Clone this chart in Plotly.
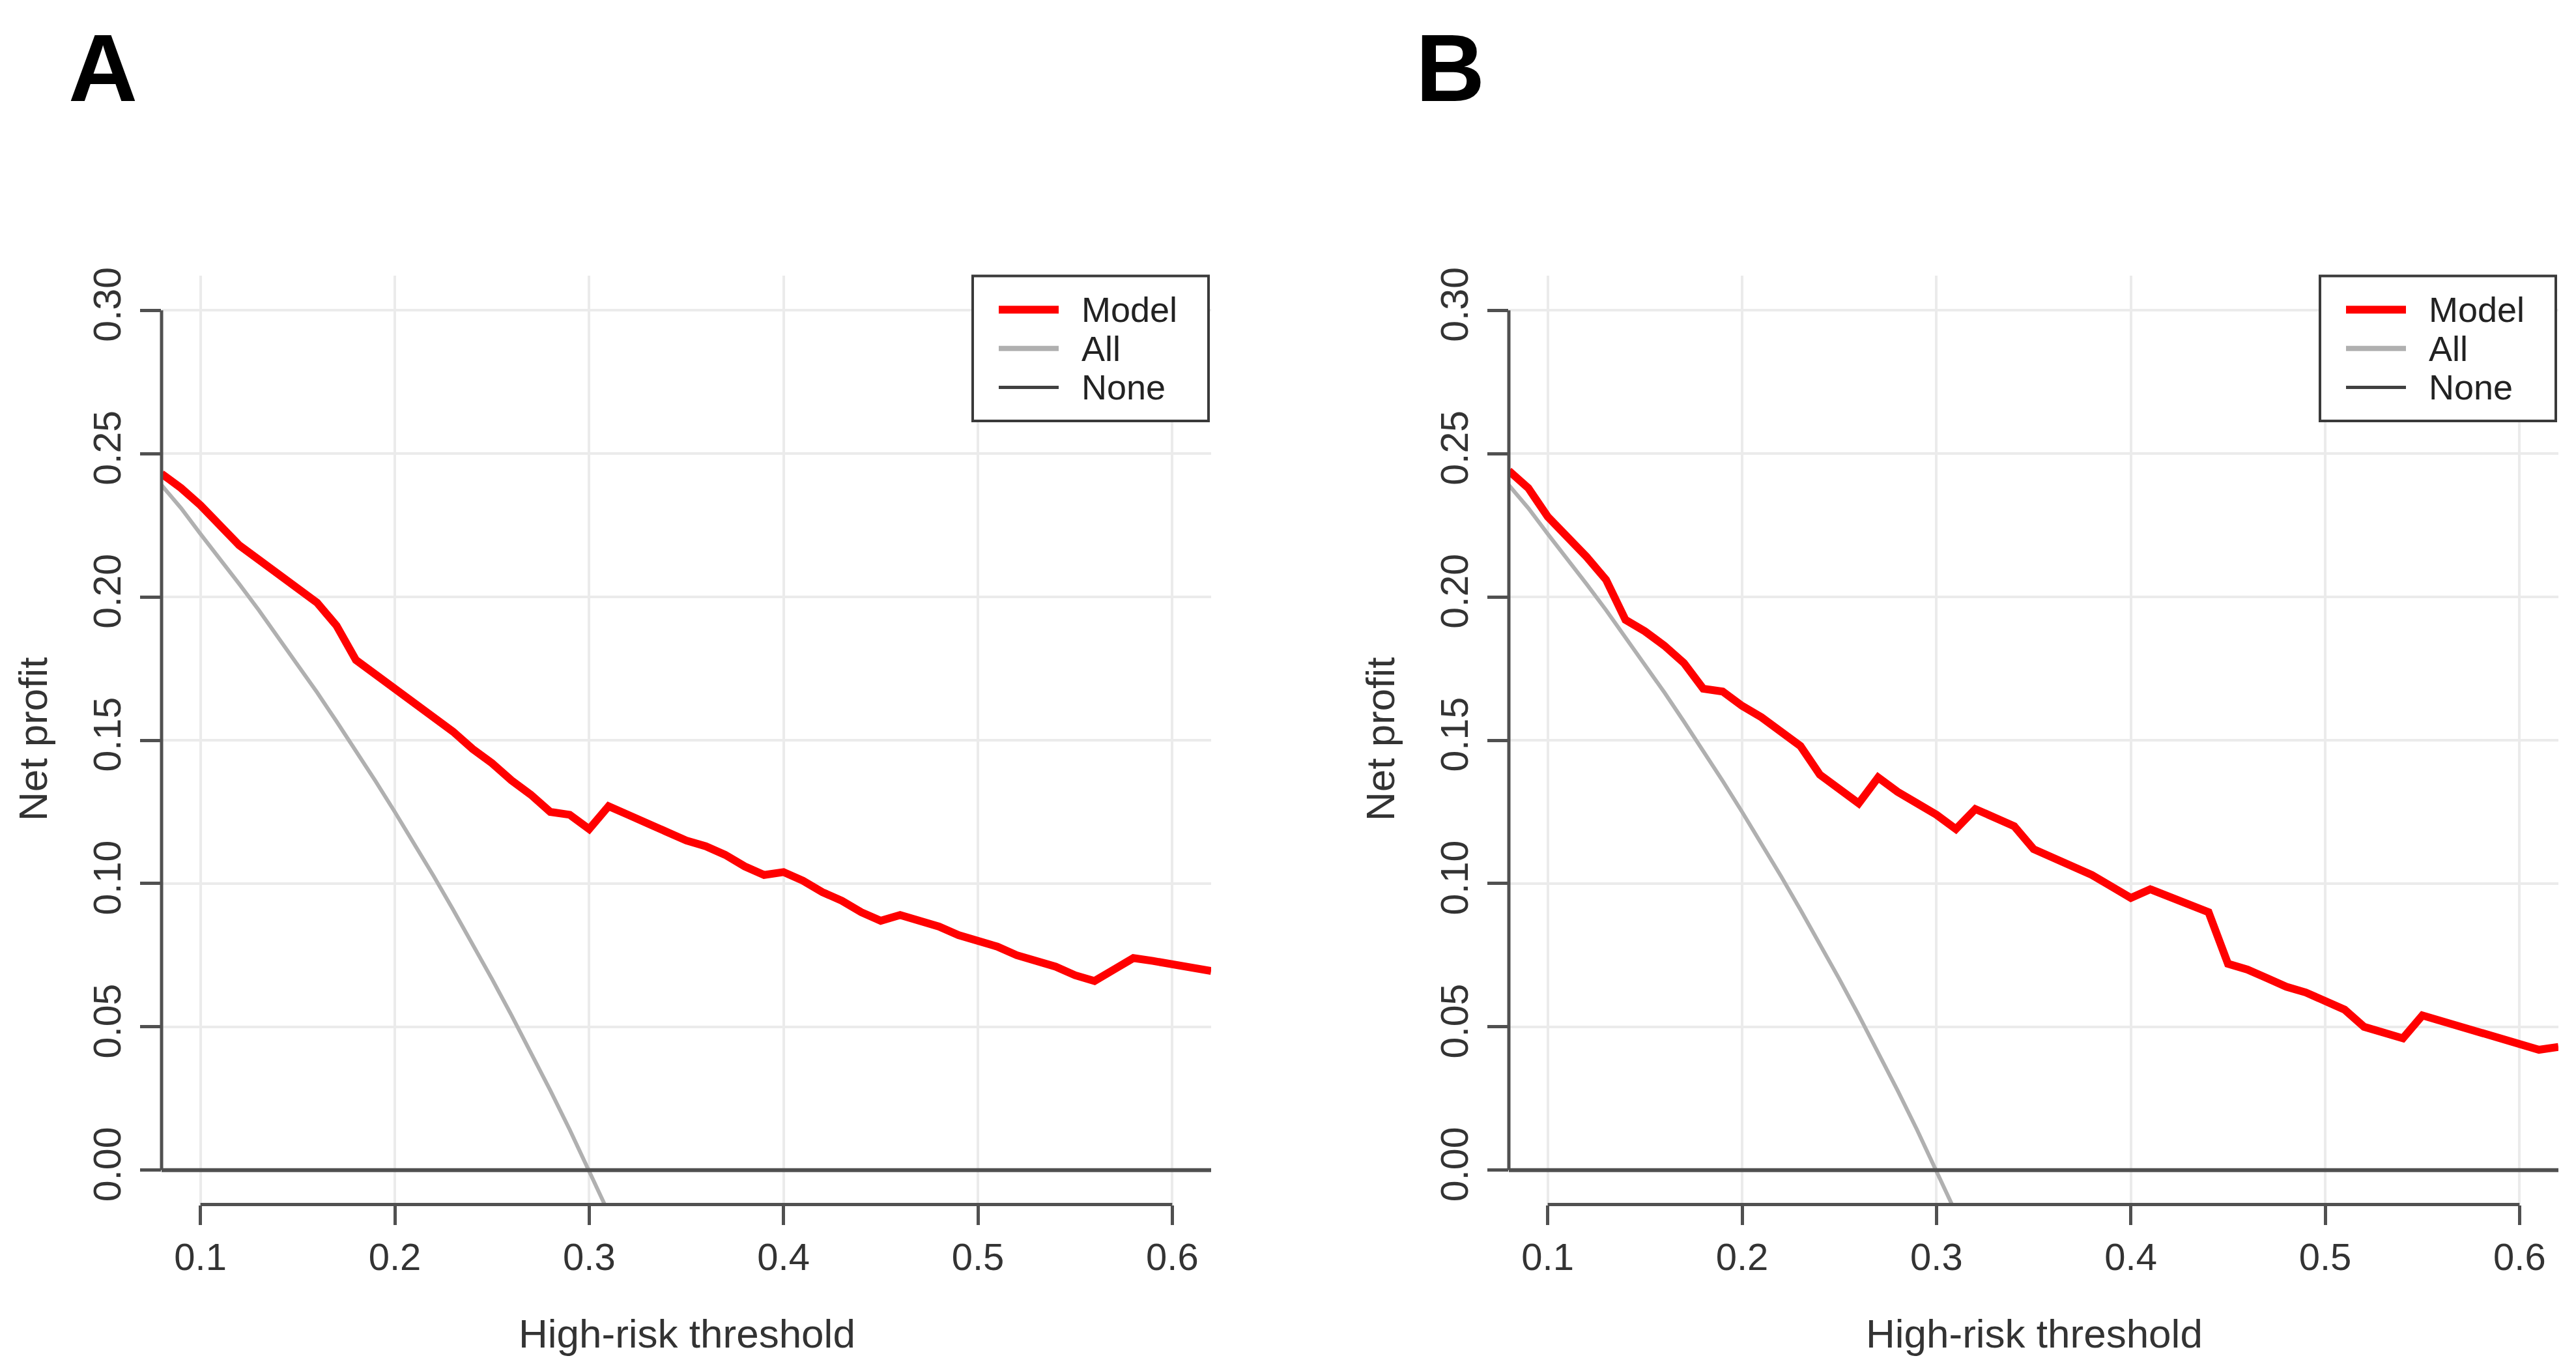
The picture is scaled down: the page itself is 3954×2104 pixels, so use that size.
import plotly.graph_objects as go

# ---------------- data ----------------
threshold = [0.08, 0.09, 0.10, 0.11, 0.12, 0.13, 0.14, 0.15, 0.16, 0.17,
             0.18, 0.19, 0.20, 0.21, 0.22, 0.23, 0.24, 0.25, 0.26, 0.27,
             0.28, 0.29, 0.30, 0.31, 0.32, 0.33, 0.34, 0.35, 0.36, 0.37,
             0.38, 0.39, 0.40, 0.41, 0.42, 0.43, 0.44, 0.45, 0.46, 0.47,
             0.48, 0.49, 0.50, 0.51, 0.52, 0.53, 0.54, 0.55, 0.56, 0.57,
             0.58, 0.59, 0.60, 0.61, 0.62]

model_a = [0.243, 0.238, 0.232, 0.225, 0.218, 0.213, 0.208, 0.203, 0.198, 0.190,
           0.178, 0.173, 0.168, 0.163, 0.158, 0.153, 0.147, 0.142, 0.136, 0.131,
           0.125, 0.124, 0.119, 0.127, 0.124, 0.121, 0.118, 0.115, 0.113, 0.110,
           0.106, 0.103, 0.104, 0.101, 0.097, 0.094, 0.090, 0.087, 0.089, 0.087,
           0.085, 0.082, 0.080, 0.078, 0.075, 0.073, 0.071, 0.068, 0.066, 0.070,
           0.074, 0.073, 0.072, 0.071, 0.0695]

model_b = [0.244, 0.238, 0.228, 0.221, 0.214, 0.206, 0.192, 0.188, 0.183, 0.177,
           0.168, 0.167, 0.162, 0.158, 0.153, 0.148, 0.138, 0.133, 0.128, 0.137,
           0.132, 0.128, 0.124, 0.119, 0.126, 0.123, 0.120, 0.112, 0.109, 0.106,
           0.103, 0.099, 0.095, 0.098, 0.0955, 0.093, 0.090, 0.072, 0.070, 0.067,
           0.064, 0.062, 0.059, 0.056, 0.050, 0.048, 0.046, 0.054, 0.052, 0.050,
           0.048, 0.046, 0.044, 0.042, 0.043]

# "treat all" curve (threshold 0.08 .. 0.32)
treat_all = [0.239, 0.231, 0.222, 0.2135, 0.2045, 0.1954, 0.186, 0.1765, 0.1667, 0.1566,
             0.1463, 0.1358, 0.125, 0.1139, 0.1026, 0.0909, 0.0789, 0.0667, 0.0541, 0.0411,
             0.0278, 0.0141, 0.0, -0.0145, -0.0294]

treat_none = [0.0] * len(threshold)

x_ticks = [0.1, 0.2, 0.3, 0.4, 0.5, 0.6]
x_tick_text = ["0.1", "0.2", "0.3", "0.4", "0.5", "0.6"]
y_ticks = [0.0, 0.05, 0.10, 0.15, 0.20, 0.25, 0.30]
y_tick_text = ["0.00", "0.05", "0.10", "0.15", "0.20", "0.25", "0.30"]

panel_letters = ["A", "B"]
legend_labels = ["Model", "All", "None"]

# ---------------- styling ----------------
W, H = 3954, 2104          # page (window) size
M = 8                      # default <body> margin of the html page
FW, FH = W - 2 * M, H - 2 * M
FONT = "Liberation Sans, Arial, sans-serif"
RED = "#FF0000"
GREY = "#B0B0B0"
DARK = "#505050"
GRID = "#EBEBEB"
TXT = "#333333"


def px(x):
    return (x - M) / FW


def py(y):
    return 1 - (y - M) / FH


fig = go.Figure()

panel_offsets = [0, 2068]
models = [model_a, model_b]
shapes = []
annotations = []

for i, (off, model, letter) in enumerate(zip(panel_offsets, models, panel_letters)):
    xa = "x" if i == 0 else "x2"
    ya = "y" if i == 0 else "y2"
    fig.add_trace(go.Scatter(x=threshold[:len(treat_all)], y=treat_all, mode="lines",
                             line=dict(color=GREY, width=6), name=legend_labels[1],
                             showlegend=False, xaxis=xa, yaxis=ya))
    fig.add_trace(go.Scatter(x=threshold, y=treat_none, mode="lines",
                             line=dict(color=DARK, width=6), name=legend_labels[2],
                             showlegend=False, xaxis=xa, yaxis=ya))
    fig.add_trace(go.Scatter(x=threshold, y=model, mode="lines",
                             line=dict(color=RED, width=12), name=legend_labels[0],
                             showlegend=False, xaxis=xa, yaxis=ya))

    xref_dom = xa + " domain"
    yref_dom = ya + " domain"
    # axis lines (R style: span first to last tick)
    shapes.append(dict(type="line", xref=xref_dom, yref=ya, x0=0, x1=0,
                       y0=y_ticks[0], y1=y_ticks[-1], line=dict(color=DARK, width=5)))
    shapes.append(dict(type="line", xref=xa, yref=yref_dom, x0=x_ticks[0], x1=x_ticks[-1],
                       y0=0, y1=0, line=dict(color=DARK, width=5)))

    # legend box
    bx0, bx1, by0, by1 = 1493 + off, 1855 + off, 413, 637
    shapes.append(dict(type="rect", xref="paper", yref="paper",
                       x0=px(bx0), x1=px(bx1), y0=py(by1), y1=py(by0),
                       line=dict(color="#3a3a3a", width=4), fillcolor="white", layer="above"))
    rows = [(465, RED, 12), (525, GREY, 8), (585, "#404040", 5)]
    for (ry, col, lw), lab in zip(rows, legend_labels):
        shapes.append(dict(type="line", xref="paper", yref="paper",
                           x0=px(1533 + off), x1=px(1625 + off), y0=py(ry), y1=py(ry),
                           line=dict(color=col, width=lw), layer="above"))
        annotations.append(dict(text=lab, xref="paper", yref="paper",
                                x=px(1658 + off), y=py(ry), xanchor="left", yanchor="middle",
                                showarrow=False, font=dict(family=FONT, size=54, color="#222222")))

    # axis titles
    annotations.append(dict(text="High-risk threshold", xref="paper", yref="paper",
                            x=px(1054 + off), y=py(2046), xanchor="center", yanchor="middle",
                            showarrow=False, font=dict(family=FONT, size=62, color=TXT)))
    annotations.append(dict(text="Net profit", xref="paper", yref="paper",
                            x=px(50 + off), y=py(1128), xanchor="center", yanchor="middle",
                            textangle=-90, showarrow=False,
                            font=dict(family=FONT, size=62, color=TXT)))
    # panel letter
    annotations.append(dict(text="<b>" + letter + "</b>", xref="paper", yref="paper",
                            x=px(104 + off), y=1, xanchor="left", yanchor="top",
                            showarrow=False, borderpad=0,
                            font=dict(family=FONT, size=147, color="black")))

x_dom_a = [px(248), px(1859)]
x_dom_b = [px(248 + 2068), px(1859 + 2068)]
y_dom = [py(1847), py(413)]

common_x = dict(range=[0.08, 0.62], tickmode="array", tickvals=x_ticks, ticktext=x_tick_text,
                ticks="outside", ticklen=30, tickwidth=5, tickcolor=DARK,
                showgrid=True, gridcolor=GRID, gridwidth=4, zeroline=False, showline=False,
                tickfont=dict(family=FONT, size=58, color=TXT), fixedrange=True)
common_y = dict(range=[-0.012, 0.312], tickmode="array", tickvals=y_ticks, ticktext=y_tick_text,
                ticks="outside", ticklen=32, tickwidth=5, tickcolor=DARK, tickangle=-90,
                ticklabelstandoff=6,
                showgrid=True, gridcolor=GRID, gridwidth=4, zeroline=False, showline=False,
                tickfont=dict(family=FONT, size=59, color=TXT), fixedrange=True)

fig.update_layout(
    width=FW, height=FH,
    margin=dict(l=0, r=0, t=0, b=0),
    paper_bgcolor="white", plot_bgcolor="white",
    showlegend=False,
    xaxis=dict(domain=x_dom_a, anchor="y", **common_x),
    yaxis=dict(domain=y_dom, anchor="x", **common_y),
    xaxis2=dict(domain=x_dom_b, anchor="y2", **common_x),
    yaxis2=dict(domain=y_dom, anchor="x2", **common_y),
    shapes=shapes,
    annotations=annotations,
)

fig.write_html("out.html")
